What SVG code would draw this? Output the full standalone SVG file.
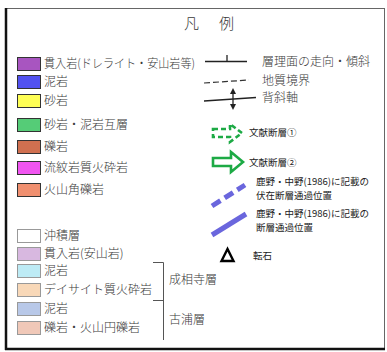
<svg xmlns="http://www.w3.org/2000/svg" width="387" height="352" viewBox="0 0 387 352">
<style>
.t{font-family:"Noto Sans CJK JP","Noto Sans",sans-serif;font-size:12px;fill:#3a3a3a;font-weight:300}
.s{font-family:"Noto Sans CJK JP","Noto Sans",sans-serif;font-size:9.5px;fill:#222}
.sw{stroke:#333;stroke-width:1}
.sw2{stroke:#999;stroke-width:1}
.ga{fill:none;stroke:#1DAA45;stroke-width:2.6;stroke-linejoin:miter}
.pl{stroke:#6A66DD;stroke-width:5;stroke-linecap:butt}
</style>
<rect x="0" y="0" width="387" height="352" fill="#fff"/>
<g id="frame">
<rect x="6.5" y="8.5" width="378" height="340" fill="#fff" stroke="#666" stroke-width="1"/>
<line x1="6" y1="8" x2="6" y2="350" stroke="#111" stroke-width="2.5"/>
<line x1="5" y1="349" x2="385" y2="349" stroke="#111" stroke-width="2.5"/>
</g>
<g id="title"><text class="t" x="184" y="29" style="font-size:15px">凡</text><text class="t" x="219" y="29" style="font-size:15px">例</text></g>
<g id="leg1"><rect class="sw" x="17.5" y="57.5" width="23" height="13" fill="#A855C0"/><text class="t" x="44" y="68" textLength="151" lengthAdjust="spacingAndGlyphs">貫入岩(ドレライト・安山岩等)</text></g>
<g id="leg2"><rect class="sw" x="17.5" y="75.5" width="23" height="13" fill="#5252F0"/><text class="t" x="44" y="86">泥岩</text></g>
<g id="leg3"><rect class="sw" x="17.5" y="94.5" width="23" height="13" fill="#FFFF55"/><text class="t" x="44" y="105">砂岩</text></g>
<g id="leg4"><rect class="sw" x="17.5" y="118.5" width="23" height="13" fill="#55CC77"/><text class="t" x="44" y="129">砂岩・泥岩互層</text></g>
<g id="leg5"><rect class="sw" x="17.5" y="140.5" width="23" height="13" fill="#D07050"/><text class="t" x="44" y="151">礫岩</text></g>
<g id="leg6"><rect class="sw" x="17.5" y="161.5" width="23" height="13" fill="#F055F0"/><text class="t" x="44" y="172">流紋岩質火砕岩</text></g>
<g id="leg7"><rect class="sw" x="17.5" y="183.5" width="23" height="13" fill="#F09070"/><text class="t" x="44" y="194">火山角礫岩</text></g>
<g id="leg8"><rect class="sw2" x="17.5" y="229.5" width="23" height="13" fill="#fff"/><text class="t" x="44" y="240">沖積層</text></g>
<g id="leg9"><rect class="sw2" x="17.5" y="247.5" width="23" height="13" fill="#D8B8E0"/><text class="t" x="44" y="258">貫入岩(安山岩)</text></g>
<g id="leg10"><rect class="sw2" x="17.5" y="264.5" width="23" height="13" fill="#BDEBF5"/><text class="t" x="44" y="275">泥岩</text></g>
<g id="leg11"><rect class="sw2" x="17.5" y="283.5" width="23" height="13" fill="#F8D8B8"/><text class="t" x="44" y="294">デイサイト質火砕岩</text></g>
<g id="leg12"><rect class="sw2" x="17.5" y="302.5" width="23" height="13" fill="#B8C8E8"/><text class="t" x="44" y="313">泥岩</text></g>
<g id="leg13"><rect class="sw2" x="17.5" y="321.5" width="23" height="13" fill="#F0C8B8"/><text class="t" x="44" y="332">礫岩・火山円礫岩</text></g>
<g id="bracket" fill="none" stroke="#555" stroke-width="1">
<polyline points="153,262.5 163.5,262.5 163.5,340"/>
<line x1="153" y1="300.5" x2="163.5" y2="300.5"/>
</g>
<g id="group-labels"><text class="t" x="169" y="284">成相寺層</text><text class="t" x="169" y="324">古浦層</text></g>
<g id="sym-strike"><line x1="205" y1="61.5" x2="247" y2="61.5" stroke="#222" stroke-width="1.3"/><line x1="227" y1="55" x2="227" y2="61.5" stroke="#222" stroke-width="1.3"/><text class="t" x="262" y="66">層理面の走向・傾斜</text></g>
<g id="sym-boundary"><line x1="204" y1="83" x2="249" y2="80" stroke="#333" stroke-width="1.2" stroke-dasharray="6,3"/><text class="t" x="262" y="85">地質境界</text></g>
<g id="sym-anticline"><line x1="204" y1="101" x2="256" y2="97.5" stroke="#222" stroke-width="1.3"/><line x1="233" y1="92" x2="233" y2="106" stroke="#222" stroke-width="1.3"/><polygon points="233,88 230,94 236,94" fill="#222"/><polygon points="233,110 230,104 236,104" fill="#222"/><text class="t" x="262" y="102">背斜軸</text></g>
<g id="sym-fault1"><polygon class="ga" stroke-dasharray="5,3" points="213,129 230,129 230,124 242,133 230,142 230,137 213,137"/><text class="s" x="249" y="136">文献断層①</text></g>
<g id="sym-fault2"><polygon class="ga" points="213,158 231,158 231,152 243,162 231,172 231,166 213,166"/><text class="s" x="249" y="166">文献断層②</text></g>
<g id="sym-buried"><line class="pl" x1="212" y1="206" x2="245" y2="185" stroke-dasharray="10,5"/><text class="s" x="256" y="185">鹿野・中野(1986)に記載の</text><text class="s" x="256" y="199">伏在断層通過位置</text></g>
<g id="sym-fault"><line class="pl" x1="212" y1="235" x2="246" y2="214"/><text class="s" x="256" y="217">鹿野・中野(1986)に記載の</text><text class="s" x="256" y="231">断層通過位置</text></g>
<g id="sym-rock"><polygon points="227.5,249 221.5,261 233.5,261" fill="none" stroke="#000" stroke-width="2.4"/><text class="s" x="253" y="259">転石</text></g>
</svg>
